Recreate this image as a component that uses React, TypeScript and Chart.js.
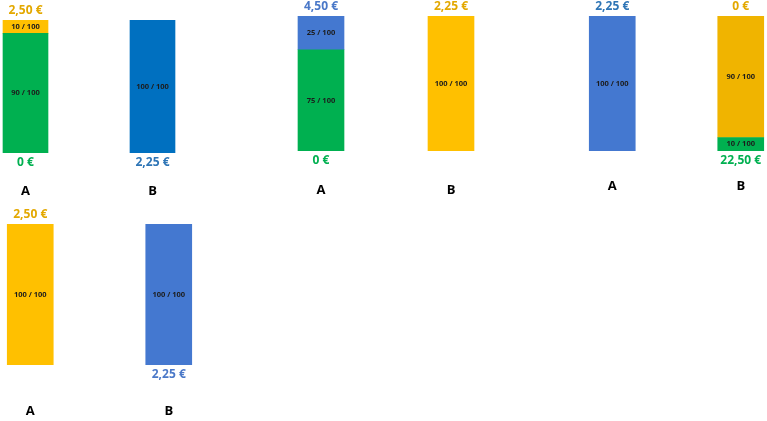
import React, { useEffect, useRef } from 'react';
import { Chart, registerables } from 'chart.js';

Chart.register(...registerables);

// ---------- data ----------
const categories = ['A', 'B'];

// Panel 1
const p1Green = [90, 0];
const p1Yellow = [10, 0];
const p1Blue = [0, 100];
const p1Top = ['2,50 €', ''];
const p1Bottom = ['0 €', '2,25 €'];

// Panel 2
const p2Green = [75, 0];
const p2Blue = [25, 0];
const p2Yellow = [0, 100];
const p2Top = ['4,50 €', '2,25 €'];
const p2Bottom = ['0 €', ''];

// Panel 3
const p3Green = [0, 10];
const p3Blue = [100, 0];
const p3Yellow = [0, 90];
const p3Top = ['2,25 €', '0 €'];
const p3Bottom = ['', '22,50 €'];

// Panel 4
const p4Yellow = [100, 0];
const p4Blue = [0, 100];
const p4Top = ['2,50 €', ''];
const p4Bottom = ['', '2,25 €'];

// ---------- styles ----------
const GREEN = '#00B050';
const YELLOW = '#FFC000';
const YELLOW_DARK = '#F0B400';
const BLUE = '#4478D0';
const BLUE_DARK = '#0070C0';

const T_GREEN = '#00B050';
const T_YELLOW = '#E3A800';
const T_BLUE = '#2E75B6';
const T_BLUE_LIGHT = '#4A78C8';

const FONT = "'Open Sans', 'Liberation Sans', sans-serif";

type DS = { data: number[]; colors: string[] };

type PanelProps = {
  left: number;
  top: number;
  width: number;
  padTop: number;
  barBottom: number;
  labelGap: number;
  barThickness: number;
  datasets: DS[];
  topLabels: string[];
  topColors: string[];
  bottomLabels: string[];
  bottomColors: string[];
};

function Panel(props: PanelProps) {
  const ref = useRef<HTMLCanvasElement | null>(null);
  const lineH = 13 * 1.2;
  const height = Math.ceil(props.barBottom + lineH + 2 * props.labelGap);
  const padBottom = height - (props.barBottom + lineH + 2 * props.labelGap);

  useEffect(() => {
    if (!ref.current) return;
    const labelsPlugin = {
      id: 'barLabels',
      afterDatasetsDraw(chart: any) {
        const ctx = chart.ctx;
        ctx.save();
        ctx.textAlign = 'center';
        ctx.textBaseline = 'middle';
        ctx.font = `bold 7.5px ${FONT}`;
        ctx.fillStyle = '#1c1c1c';
        const tops: number[] = categories.map(() => Infinity);
        const bottoms: number[] = categories.map(() => -Infinity);
        const xs: number[] = categories.map(() => 0);
        chart.data.datasets.forEach((ds: any, i: number) => {
          const meta = chart.getDatasetMeta(i);
          meta.data.forEach((el: any, j: number) => {
            const v = ds.data[j];
            const { x, y, base } = el.getProps(['x', 'y', 'base'], true);
            if (!isNaN(x)) xs[j] = x;
            if (!v) return;
            tops[j] = Math.min(tops[j], y, base);
            bottoms[j] = Math.max(bottoms[j], y, base);
            ctx.fillText(`${v} / 100`, x, (y + base) / 2);
          });
        });
        ctx.font = `bold 12px ${FONT}`;
        categories.forEach((_, j) => {
          if (props.topLabels[j]) {
            ctx.fillStyle = props.topColors[j];
            ctx.fillText(props.topLabels[j], xs[j], tops[j] - 9);
          }
          if (props.bottomLabels[j]) {
            ctx.fillStyle = props.bottomColors[j];
            ctx.fillText(props.bottomLabels[j], xs[j], bottoms[j] + 10);
          }
        });
        ctx.restore();
      },
    };

    const chart = new Chart(ref.current, {
      type: 'bar',
      data: {
        labels: categories,
        datasets: props.datasets.map((d) => ({
          data: d.data.map((v) => (v ? v : null)),
          backgroundColor: d.colors,
          borderWidth: 0,
          barThickness: props.barThickness,
        })),
      },
      options: {
        responsive: false,
        animation: false,
        layout: { padding: { top: props.padTop, left: 0, right: 0, bottom: padBottom } },
        plugins: { legend: { display: false }, tooltip: { enabled: false }, title: { display: false } },
        scales: {
          x: {
            stacked: true,
            offset: true,
            grid: { display: false, drawTicks: false },
            border: { display: false },
            ticks: {
              padding: props.labelGap,
              color: '#000',
              font: { family: FONT, size: 13, weight: 'bold' },
            },
          },
          y: { stacked: true, min: 0, max: 100, display: false },
        },
      },
      plugins: [labelsPlugin],
    });
    return () => chart.destroy();
  }, []);

  return (
    <canvas
      ref={ref}
      width={props.width}
      height={height}
      style={{ position: 'absolute', left: props.left, top: props.top, width: props.width, height }}
    />
  );
}

export default function App() {
  return (
    <div style={{ position: 'fixed', left: 0, top: 0, width: 767, height: 421, overflow: 'hidden', background: '#fff' }}>
      <Panel
        left={-38}
        top={0}
        width={254}
        padTop={20}
        barBottom={153}
        labelGap={30}
        barThickness={45}
        datasets={[
          { data: p1Green, colors: [GREEN, GREEN] },
          { data: p1Yellow, colors: [YELLOW, YELLOW] },
          { data: p1Blue, colors: [BLUE_DARK, BLUE_DARK] },
        ]}
        topLabels={p1Top}
        topColors={[T_YELLOW, T_BLUE]}
        bottomLabels={p1Bottom}
        bottomColors={[T_GREEN, T_BLUE]}
      />
      <Panel
        left={256}
        top={0}
        width={260}
        padTop={16}
        barBottom={151}
        labelGap={31}
        barThickness={46}
        datasets={[
          { data: p2Green, colors: [GREEN, GREEN] },
          { data: p2Blue, colors: [BLUE, BLUE] },
          { data: p2Yellow, colors: [YELLOW, YELLOW] },
        ]}
        topLabels={p2Top}
        topColors={[T_BLUE_LIGHT, T_YELLOW]}
        bottomLabels={p2Bottom}
        bottomColors={[T_GREEN, T_GREEN]}
      />
      <Panel
        left={548}
        top={0}
        width={257}
        padTop={16}
        barBottom={151}
        labelGap={27}
        barThickness={46}
        datasets={[
          { data: p3Green, colors: [GREEN, GREEN] },
          { data: p3Blue, colors: [BLUE, BLUE] },
          { data: p3Yellow, colors: [YELLOW_DARK, YELLOW_DARK] },
        ]}
        topLabels={p3Top}
        topColors={[T_BLUE, T_YELLOW]}
        bottomLabels={p3Bottom}
        bottomColors={[T_GREEN, T_GREEN]}
      />
      <Panel
        left={-39}
        top={200}
        width={277}
        padTop={24}
        barBottom={165}
        labelGap={38}
        barThickness={46}
        datasets={[
          { data: p4Yellow, colors: [YELLOW, YELLOW] },
          { data: p4Blue, colors: [BLUE, BLUE] },
        ]}
        topLabels={p4Top}
        topColors={[T_YELLOW, T_YELLOW]}
        bottomLabels={p4Bottom}
        bottomColors={[T_BLUE, T_BLUE_LIGHT]}
      />
    </div>
  );
}
